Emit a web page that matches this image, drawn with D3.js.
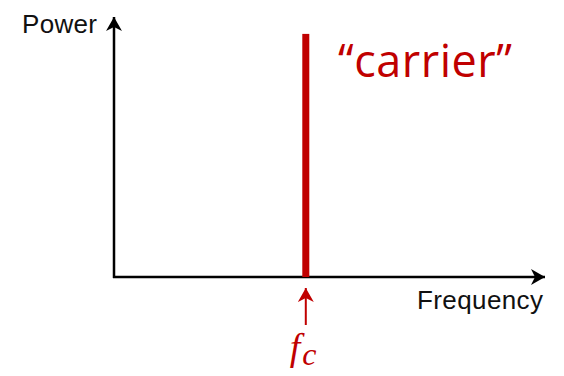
<!DOCTYPE html>
<html><head><meta charset="utf-8">
<script src="https://cdn.jsdelivr.net/npm/d3@7"></script>
<style>html,body{margin:0;padding:0;background:#fff;}svg{display:block;}</style>
</head><body>
<script>
// Data
const signalNames = ["carrier"];
const signalFreqs = [0.445];   // fraction of frequency axis
const signalPowers = [0.935];  // fraction of power axis
const axisLabels = ["Frequency", "Power"];
const markerLabels = ["f", "c"];

const W = 564, H = 376;
const red = "#c00000";
const svg = d3.select("body").append("svg").attr("width", W).attr("height", H);

const x = d3.scaleLinear().domain([0, 1]).range([114, 545]);
const y = d3.scaleLinear().domain([0, 1]).range([277, 17]);

const defs = svg.append("defs");
function marker(id, color) {
  defs.append("marker").attr("id", id).attr("viewBox", "0 0 14 16")
    .attr("refX", 14).attr("refY", 8).attr("markerWidth", 14).attr("markerHeight", 16)
    .attr("markerUnits", "userSpaceOnUse").attr("orient", "auto")
    .append("path").attr("d", "M0,0 L14,8 L0,16 L4,8 Z").attr("fill", color);
}
marker("arrBlack", "#000");
marker("arrRed", red);

// axes
svg.append("line").attr("x1", x(0) - 1).attr("y1", y(0)).attr("x2", x(1)).attr("y2", y(0))
  .attr("stroke", "#000").attr("stroke-width", 2.5).attr("marker-end", "url(#arrBlack)");
svg.append("line").attr("x1", x(0)).attr("y1", y(0) + 1).attr("x2", x(0)).attr("y2", y(1))
  .attr("stroke", "#000").attr("stroke-width", 2.5).attr("marker-end", "url(#arrBlack)");

svg.append("text").attr("x", 543).attr("y", 309).attr("text-anchor", "end")
  .attr("font-family", "Liberation Sans, Arial, sans-serif").attr("font-size", 26)
  .attr("textLength", 126).attr("fill", "#111").text(axisLabels[0]);
svg.append("text").attr("x", 22).attr("y", 33)
  .attr("font-family", "Liberation Sans, Arial, sans-serif").attr("font-size", 26)
  .attr("textLength", 75).attr("fill", "#111").text(axisLabels[1]);

// bars
const bw = 7;
svg.selectAll("rect.sig").data(signalFreqs).join("rect").attr("class", "sig")
  .attr("x", d => x(d) - bw / 2).attr("width", bw)
  .attr("y", (d, i) => y(signalPowers[i])).attr("height", (d, i) => y(0) - y(signalPowers[i]))
  .attr("fill", red);

// carrier label
svg.append("text").attr("x", 338).attr("y", 77)
  .attr("font-family", "Open Sans, Liberation Sans, sans-serif").attr("font-size", 45)
  .attr("textLength", 174).attr("fill", red).text("\u201C" + signalNames[0] + "\u201D");

// marker arrow
const fx = x(signalFreqs[0]);
svg.append("line").attr("x1", fx).attr("y1", 325).attr("x2", fx).attr("y2", 288)
  .attr("stroke", red).attr("stroke-width", 2).attr("marker-end", "url(#arrRed)");
const lbl = svg.append("text").attr("x", fx - 16).attr("y", 360)
  .attr("font-family", "Liberation Serif, DejaVu Serif, serif").attr("font-style", "italic")
  .attr("font-size", 38).attr("fill", red);
lbl.append("tspan").text(markerLabels[0]);
lbl.append("tspan").attr("font-size", 32).attr("dx", 2).attr("dy", 5).text(markerLabels[1]);
</script>
</body></html>
